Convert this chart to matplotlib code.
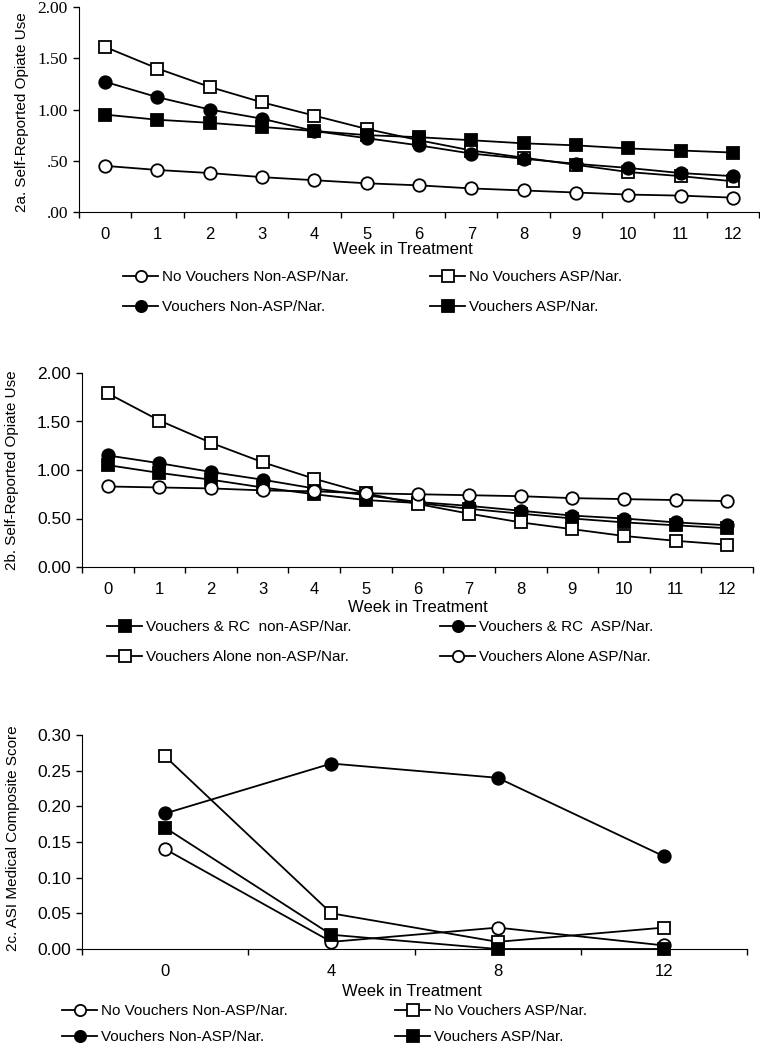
import matplotlib
matplotlib.use("Agg")
import matplotlib.pyplot as plt
import numpy as np

plt.rcParams['font.family'] = ['Liberation Sans', 'DejaVu Sans']

# ---- data ----
weeks_ab = list(range(13))
weeks_c = [0, 4, 8, 12]

# 2a
a_nov_nonasp = [0.45, 0.41, 0.38, 0.34, 0.31, 0.28, 0.26, 0.23, 0.21, 0.19, 0.17, 0.16, 0.14]
a_nov_asp = [1.61, 1.40, 1.22, 1.07, 0.94, 0.81, 0.70, 0.60, 0.53, 0.46, 0.39, 0.35, 0.30]
a_v_nonasp = [1.27, 1.12, 1.00, 0.91, 0.79, 0.72, 0.65, 0.57, 0.52, 0.47, 0.43, 0.38, 0.35]
a_v_asp = [0.95, 0.90, 0.87, 0.83, 0.79, 0.75, 0.73, 0.70, 0.67, 0.65, 0.62, 0.60, 0.58]

# 2b
b_rc_nonasp = [1.05, 0.97, 0.90, 0.82, 0.75, 0.69, 0.66, 0.60, 0.55, 0.50, 0.46, 0.43, 0.40]
b_rc_asp = [1.15, 1.07, 0.98, 0.90, 0.81, 0.74, 0.67, 0.63, 0.58, 0.53, 0.50, 0.46, 0.43]
b_alone_nonasp = [1.79, 1.51, 1.28, 1.08, 0.91, 0.76, 0.65, 0.55, 0.46, 0.39, 0.32, 0.27, 0.23]
b_alone_asp = [0.83, 0.82, 0.81, 0.79, 0.78, 0.76, 0.75, 0.74, 0.73, 0.71, 0.70, 0.69, 0.68]

# 2c
c_nov_nonasp = [0.14, 0.01, 0.03, 0.005]
c_nov_asp = [0.27, 0.05, 0.01, 0.03]
c_v_nonasp = [0.19, 0.26, 0.24, 0.13]
c_v_asp = [0.17, 0.02, 0.0, 0.0]

W, H = 760, 1050
fig = plt.figure(figsize=(W / 100, H / 100), dpi=100)


def px_axes(left, top, right, bottom):
    return fig.add_axes([left / W, 1 - bottom / H, (right - left) / W, (bottom - top) / H])


def style(kind):
    marker = 'o' if 'circle' in kind else 's'
    face = 'black' if 'filled' in kind else 'white'
    return dict(color='black', lw=1.3, marker=marker, markersize=9,
                markerfacecolor=face, markeredgecolor='black', markeredgewidth=1.3,
                clip_on=False)


def setup(ax, weeks, ylim, yticks, ylabels, yfont):
    n = len(weeks)
    ax.set_xlim(-0.5, n - 0.5)
    ax.set_ylim(*ylim)
    for s in ['top', 'right']:
        ax.spines[s].set_visible(False)
    ax.set_xticks(np.arange(n + 1) - 0.5)
    ax.set_xticklabels([])
    ax.set_xticks(range(n), minor=True)
    ax.set_xticklabels([str(w) for w in weeks], minor=True, fontsize=12)
    ax.tick_params(axis='x', which='major', direction='out', length=4, width=1)
    ax.tick_params(axis='x', which='minor', length=0, pad=11)
    ax.set_yticks(yticks)
    ax.set_yticklabels(ylabels, fontsize=12.5, family=yfont)
    ax.tick_params(axis='y', direction='out', length=4, width=1, pad=4)


def legend_col(handles, labels, x, y, spacing=1.06):
    fig.legend(handles, labels, loc='upper left', bbox_to_anchor=(x / W, 1 - y / H),
               frameon=False, fontsize=11, handlelength=2.3, handletextpad=0.25,
               labelspacing=spacing, borderpad=0, borderaxespad=0, markerscale=0.9)


# ---- 2a ----
ax = px_axes(79, 7, 759, 212)
x = range(len(weeks_ab))
h_a1, = ax.plot(x, a_nov_nonasp, **style('open circle'))
h_a2, = ax.plot(x, a_nov_asp, **style('open square'))
h_a3, = ax.plot(x, a_v_nonasp, **style('filled circle'))
h_a4, = ax.plot(x, a_v_asp, **style('filled square'))
setup(ax, weeks_ab, (0, 2), [0, 0.5, 1, 1.5, 2], ['.00', '.50', '1.00', '1.50', '2.00'],
      ['Liberation Serif'])
fig.text(403 / W, 1 - 250 / H, 'Week in Treatment', ha='center', va='center', fontsize=12)
fig.text(22 / W, 1 - 112 / H, '2a. Self-Reported Opiate Use', rotation=90,
         ha='center', va='center', fontsize=11)
legend_col([h_a1, h_a3], ['No Vouchers Non-ASP/Nar.', 'Vouchers Non-ASP/Nar.'], 123, 270)
legend_col([h_a2, h_a4], ['No Vouchers ASP/Nar.', 'Vouchers ASP/Nar.'], 430, 270)

# ---- 2b ----
ax = px_axes(82, 373, 753, 567)
h_b1, = ax.plot(x, b_rc_nonasp, **style('filled square'))
h_b2, = ax.plot(x, b_rc_asp, **style('filled circle'))
h_b3, = ax.plot(x, b_alone_nonasp, **style('open square'))
h_b4, = ax.plot(x, b_alone_asp, **style('open circle'))
setup(ax, weeks_ab, (0, 2), [0, 0.5, 1, 1.5, 2], ['0.00', '0.50', '1.00', '1.50', '2.00'],
      ['Liberation Sans'])
fig.text(418 / W, 1 - 607 / H, 'Week in Treatment', ha='center', va='center', fontsize=12)
fig.text(12 / W, 1 - 470 / H, '2b. Self-Reported Opiate Use', rotation=90,
         ha='center', va='center', fontsize=11)
legend_col([h_b1, h_b3], ['Vouchers & RC  non-ASP/Nar.', 'Vouchers Alone non-ASP/Nar.'], 107, 620)
legend_col([h_b2, h_b4], ['Vouchers & RC  ASP/Nar.', 'Vouchers Alone ASP/Nar.'], 440, 620)

# ---- 2c ----
ax = px_axes(82, 735, 747, 949)
xc = range(len(weeks_c))
h_c1, = ax.plot(xc, c_nov_nonasp, **style('open circle'))
h_c2, = ax.plot(xc, c_nov_asp, **style('open square'))
h_c3, = ax.plot(xc, c_v_nonasp, **style('filled circle'))
h_c4, = ax.plot(xc, c_v_asp, **style('filled square'))
setup(ax, weeks_c, (0, 0.30), [0, 0.05, 0.10, 0.15, 0.20, 0.25, 0.30],
      ['0.00', '0.05', '0.10', '0.15', '0.20', '0.25', '0.30'], ['Liberation Sans'])
fig.text(412 / W, 1 - 992 / H, 'Week in Treatment', ha='center', va='center', fontsize=12)
fig.text(13 / W, 1 - 838 / H, '2c. ASI Medical Composite Score', rotation=90,
         ha='center', va='center', fontsize=11)
legend_col([h_c1, h_c3], ['No Vouchers Non-ASP/Nar.', 'Vouchers Non-ASP/Nar.'], 62, 1004, 0.8)
legend_col([h_c2, h_c4], ['No Vouchers ASP/Nar.', 'Vouchers ASP/Nar.'], 395, 1004, 0.8)

fig.savefig('out.png', dpi=100)
